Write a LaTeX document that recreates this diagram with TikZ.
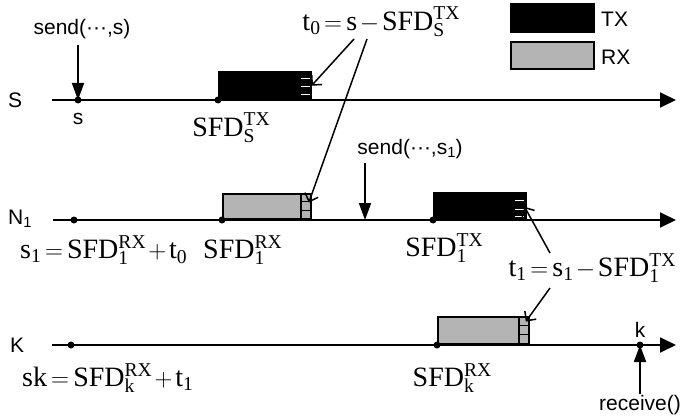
\documentclass[tikz,border=0pt]{standalone}
\usepackage{fontspec}
\setmainfont{Liberation Serif}
\setsansfont{Liberation Sans}
\usetikzlibrary{arrows.meta, positioning}
\definecolor{rxgray}{RGB}{180,180,180}
\newcommand{\sfd}[2]{\mathrm{SFD}^{\mathrm{#1}}_{\mathrm{#2}}}
\thickmuskip=3mu plus 2mu
\medmuskip=2mu plus 1mu
\scriptspace=0pt
\tikzset{
  % Time axis of one node
  timeline/.style={
    -{Triangle[length=16pt,width=15pt]}, line width=1.8pt
  },
  % send() / receive() call arrow
  callarr/.style={
    -{Triangle[length=17pt,width=12pt]}, line width=1.8pt
  },
  % Thin pointer from a formula
  pointer/.style={
    -{Straight Barb[length=7pt,width=14pt]}, line width=1.5pt
  },
  % Event dot on a time axis
  evdot/.style={
    circle, fill=black, inner sep=0pt, minimum size=7pt
  },
  % Transmission box
  txbox/.style={
    rectangle, anchor=south west, inner sep=0pt,
    fill=black, draw=black, line width=1.5pt
  },
  % Reception box
  rxbox/.style={
    rectangle, anchor=south west, inner sep=0pt,
    fill=rxgray, draw=black, line width=1.8pt
  },
  % Sans labels
  sanslabel/.style={
    font=\sffamily\fontsize{21}{23}\selectfont, inner sep=1pt
  },
  % Formula labels
  formula/.style={
    font=\fontsize{28}{31}\selectfont, inner sep=0pt
  },
}

\begin{document}
\begin{tikzpicture}[x=1pt, y=1pt]

\useasboundingbox (0,0) rectangle (680,416);

%% ── LEGEND ───────────────────────────────────────────────────────────────

\node[txbox, minimum width=83pt, minimum height=28pt] (legtx) at (510,383) {};
\node[sanslabel, anchor=west] (legtxlab) at (600,397) {TX};
\node[rxbox, minimum width=83pt, minimum height=27pt] (legrx) at (510,346) {};
\node[sanslabel, anchor=west] (legrxlab) at (600,359) {RX};

%% ── SENDER S ─────────────────────────────────────────────────────────────

\node[sanslabel, anchor=west] (slab) at (7,316) {S};
\coordinate (sstart) at (52,316);
\coordinate (send) at (676,316);

\node[txbox, minimum width=92pt, minimum height=27pt] (stx) at (218,316) {};
\foreach \f in {7,15,23}
  \draw[white, line width=1.3pt] ([xshift=-11pt, yshift=-\f pt]stx.north east) -- ++(9pt,0);

\draw[timeline] (sstart) -- (send);
\node[evdot] (sdot) at (78,316) {};
\node[evdot] (sfdsdot) at (218,316) {};

\node[sanslabel] (sendcall) at (82,387) {send(···,s)};
\draw[callarr] (78,371) coordinate (sendtop) -- (sdot.center);
\node[sanslabel, below=8pt of sdot] (stime) {s};
\node[formula] (sfds) at (231,288) {$\sfd{TX}{S}$};

%% ── NODE N1 ──────────────────────────────────────────────────────────────

\node[sanslabel, anchor=west] (nlab) at (7,197) {N\textsubscript{1}};
\coordinate (nstart) at (53,196);
\coordinate (nend) at (676,196);

\node[rxbox, minimum width=88pt, minimum height=25pt] (nrx) at (222,196) {};
\draw[line width=1.6pt] ([xshift=-11pt]nrx.north east) -- ([xshift=-11pt]nrx.south east);
\foreach \f in {8,17}
  \draw[line width=1.4pt] ([xshift=-11pt, yshift=-\f pt]nrx.north east) -- ++(11pt,0);

\node[txbox, minimum width=92pt, minimum height=27pt] (ntx) at (433,196) {};
\foreach \f in {9,18,25}
  \draw[white, line width=1.3pt] ([xshift=-12pt, yshift=-\f pt]ntx.north east) -- ++(9pt,0);

\draw[timeline] (nstart) -- (nend);
\node[evdot] (ndot) at (74,196) {};
\node[evdot] (sfdnrxdot) at (222,196) {};
\node[evdot] (sfdntxdot) at (433,196) {};

\node[sanslabel] (sendcalln) at (410,267) {send(···,s\textsubscript{1})};
\coordinate (nsendtop) at (365,253);
\coordinate (nsendpt) at (365,196);
\draw[callarr] (nsendtop) -- (nsendpt);

\node[formula, anchor=west] (s1eq) at (20,166) {$\mathrm{s_1} = \sfd{RX}{1} + \mathrm{t_0}$};
\node[formula, anchor=west] (sfdnrx) at (203,166) {$\sfd{RX}{1}$};
\node[formula] (sfdntx) at (444,168) {$\sfd{TX}{1}$};

%% ── RECEIVER K ───────────────────────────────────────────────────────────

\node[sanslabel, anchor=west] (klab) at (9,71) {K};
\coordinate (kstart) at (52,71);
\coordinate (kend) at (676,71);

\node[rxbox, minimum width=91pt, minimum height=27pt] (krx) at (437,71) {};
\draw[line width=1.6pt] ([xshift=-11pt]krx.north east) -- ([xshift=-11pt]krx.south east);
\foreach \f in {9,18}
  \draw[line width=1.4pt] ([xshift=-11pt, yshift=-\f pt]krx.north east) -- ++(11pt,0);

\draw[timeline] (kstart) -- (kend);
\node[evdot] (kdot) at (71,71) {};
\node[evdot] (sfdkdot) at (437,71) {};
\node[evdot] (krecv) at (640,71) {};

\node[sanslabel, above=3pt of krecv] (ktime) {k};
\node[sanslabel] (recvcall) at (640,11) {receive()};
\coordinate (recvbot) at (640,22);
\draw[callarr] (recvbot) -- (krecv.center);

\node[formula, anchor=west] (skeq) at (22,38) {$\mathrm{sk} = \sfd{RX}{k} + \mathrm{t_1}$};
\node[formula] (sfdkrx) at (452,38) {$\sfd{RX}{k}$};

%% ── OFFSET FORMULAS ──────────────────────────────────────────────────────

\node[formula] (t0eq) at (381,394) {$\mathrm{t_0} = \mathrm{s} - \sfd{TX}{S}$};
\coordinate (t0a) at (354,377);
\coordinate (t0b) at (367,377);
\draw[pointer] (t0a) -- (stx.east);
\draw[pointer] (t0b) -- ([xshift=-3pt, yshift=4pt]nrx.east);

\node[formula] (t1eq) at (592,148) {$\mathrm{t_1} = \mathrm{s_1} - \sfd{TX}{1}$};
\coordinate (t1a) at (550,163);
\coordinate (t1b) at (550,128);
\draw[pointer] (t1a) -- ([xshift=-2pt, yshift=-1pt]ntx.east);
\draw[pointer] (t1b) -- ([xshift=-4pt, yshift=9pt]krx.east);

\end{tikzpicture}
\end{document}
